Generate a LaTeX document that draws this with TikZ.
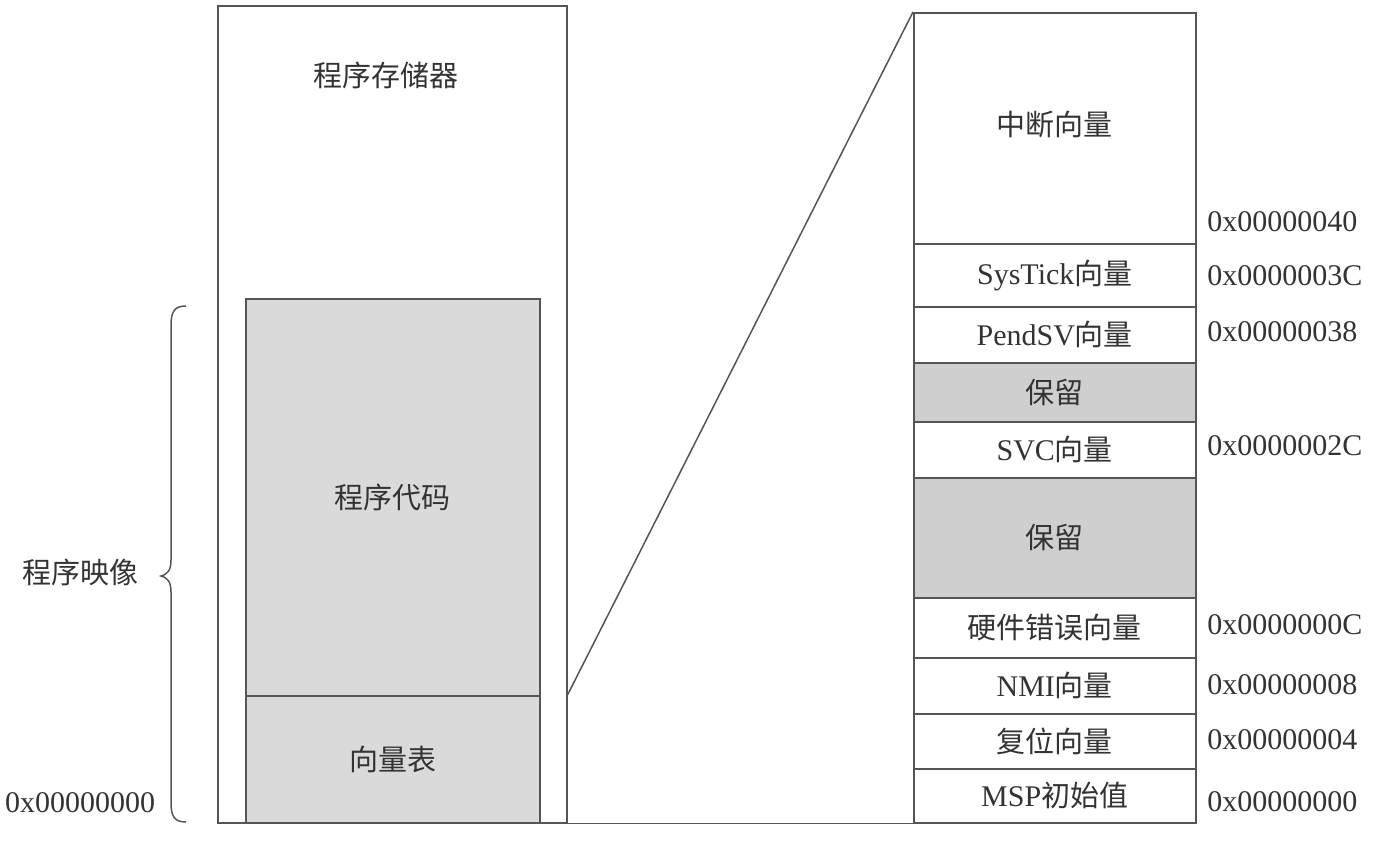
\documentclass[tikz,border=0pt]{standalone}
\usepackage{fontspec}
\setmainfont{Liberation Serif}
\newfontfamily\cjk{Noto Sans CJK SC}
\newcommand{\zh}[1]{{\cjk\fontsize{14.5pt}{16pt}\selectfont #1}}
\definecolor{ln}{HTML}{555555}
\definecolor{tx}{HTML}{333333}
\definecolor{gl}{HTML}{DADADA}
\definecolor{gr}{HTML}{CFCFCF}
\begin{document}
\begin{tikzpicture}[x=0.5pt,y=-0.5pt,
  box/.style={draw=ln,line width=0.75pt,rectangle,inner sep=0pt,anchor=north west,text=tx,font=\fontsize{15pt}{17pt}\selectfont},
  lbl/.style={text=tx,inner sep=0pt,font=\fontsize{15pt}{17pt}\selectfont},
  addr/.style={lbl,anchor=west},
  conn/.style={draw=ln,line width=0.75pt}]
\useasboundingbox (0,0) rectangle (1381,841);
% left memory
\node[box,minimum width=349*0.5pt,minimum height=817*0.5pt] (mem) at (217,5) {};
\node[box,fill=gl,minimum width=294*0.5pt,minimum height=397*0.5pt] (code) at (245,298) {\zh{程序代码}};
\node[box,fill=gl,minimum width=294*0.5pt,minimum height=127*0.5pt] (vt) at (245,695) {\zh{向量表}};
\node[lbl] (memt) at (386,75) {\zh{程序存储器}};
% brace and labels
\draw[ln,line width=0.75pt] (186,306) .. controls (174,306) and (171,312) .. (171,326)
  -- (171,560) .. controls (171,570) and (168,574) .. (161,576)
  .. controls (168,578) and (171,582) .. (171,592)
  -- (171,802) .. controls (171,816) and (174,822) .. (186,822);
\node[lbl] (img) at (80,572) {\zh{程序映像}};
\node[lbl] (a0l) at (80,803) {0x00000000};
% right vector table
\tikzset{row/.style={box,minimum width=282*0.5pt,minimum height=#1*0.5pt}}
\node[row=231] (int) at (913,12) {\raisebox{5pt}{\zh{中断向量}}};
\node[row=63] (sys) at (913,243) {SysTick\zh{向量}};
\node[row=56] (pend) at (913,306) {PendSV\zh{向量}};
\node[row=59,fill=gr] (res1) at (913,362) {\zh{保留}};
\node[row=56] (svc) at (913,421) {SVC\zh{向量}};
\node[row=120,fill=gr] (res2) at (913,477) {\zh{保留}};
\node[row=60] (hf) at (913,597) {\zh{硬件错误向量}};
\node[row=56] (nmi) at (913,657) {NMI\zh{向量}};
\node[row=55] (rst) at (913,713) {\zh{复位向量}};
\node[row=54] (msp) at (913,768) {MSP\zh{初始值}};
% addresses
\node[addr] (a40) at (1207,222) {0x00000040};
\node[addr] (a3c) at (1207,276) {0x0000003C};
\node[addr] (a38) at (1207,332) {0x00000038};
\node[addr] (a2c) at (1207,446) {0x0000002C};
\node[addr] (a0c) at (1207,625) {0x0000000C};
\node[addr] (a08) at (1207,685) {0x00000008};
\node[addr] (a04) at (1207,740) {0x00000004};
\node[addr] (a00) at (1207,802) {0x00000000};
% connectors
\coordinate (zs) at (mem.east |- vt.north);
\draw[conn] (zs) -- (int.north west);
\draw[conn] (mem.south east) -- (msp.south west);
\end{tikzpicture}
\end{document}
